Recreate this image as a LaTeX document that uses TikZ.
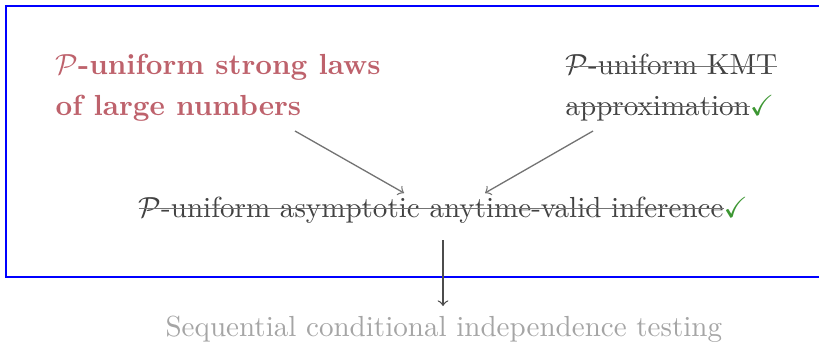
\documentclass[tikz,border=0pt]{standalone}
\usepackage{amssymb}
\definecolor{lawred}{RGB}{190,98,108}
\definecolor{strikegray}{RGB}{65,65,65}
\definecolor{checkgreen}{RGB}{60,150,50}
\definecolor{testgray}{RGB}{165,165,165}
\newcommand\mystrike[1]{\leavevmode\setbox0\hbox{#1}\copy0\llap{\textcolor{black!55}{\rule[0.6ex]{\wd0}{0.45pt}}}}
\begin{document}
\begin{tikzpicture}[x=0.344pt,y=-0.344pt,
  lawtxt/.style={text=lawred,font=\bfseries,align=left,inner sep=0pt},
  donetxt/.style={text=strikegray,align=left,inner sep=0pt},
  testtxt/.style={text=testgray,inner sep=0pt},
  conn/.style={->,draw=black!55,line width=0.45pt},
  frame/.style={draw=blue,line width=0.9pt}]
\useasboundingbox (0,0) rectangle (819,343);
\draw[frame] (6,6) rectangle (840,277);
\node[lawtxt,anchor=base west] (slln) at (55,115) {$\mathcal{P}$-uniform strong laws\\[1.8pt] of large numbers};
\node[donetxt,anchor=base west] (kmt) at (565,115) {\mystrike{$\mathcal{P}$-uniform KMT}\\[1.8pt]\mystrike{approximation}\textcolor{checkgreen}{$\checkmark$}};
\node[donetxt,anchor=base west] (avi) at (138,217) {\mystrike{$\mathcal{P}$-uniform asymptotic anytime-valid inference}\textcolor{checkgreen}{$\checkmark$}};
\node[testtxt,anchor=base west] (seq) at (165,336) {Sequential conditional independence testing};
\coordinate (s1) at (295,131);
\coordinate (e1) at (404,193);
\coordinate (s2) at (593,131);
\coordinate (e2) at (485,193);
\coordinate (s3) at (443,240);
\coordinate (e3) at (443,306);
\draw[conn] (s1) -- (e1);
\draw[conn] (s2) -- (e2);
\draw[conn,draw=black!70] (s3) -- (e3);
\end{tikzpicture}
\end{document}
